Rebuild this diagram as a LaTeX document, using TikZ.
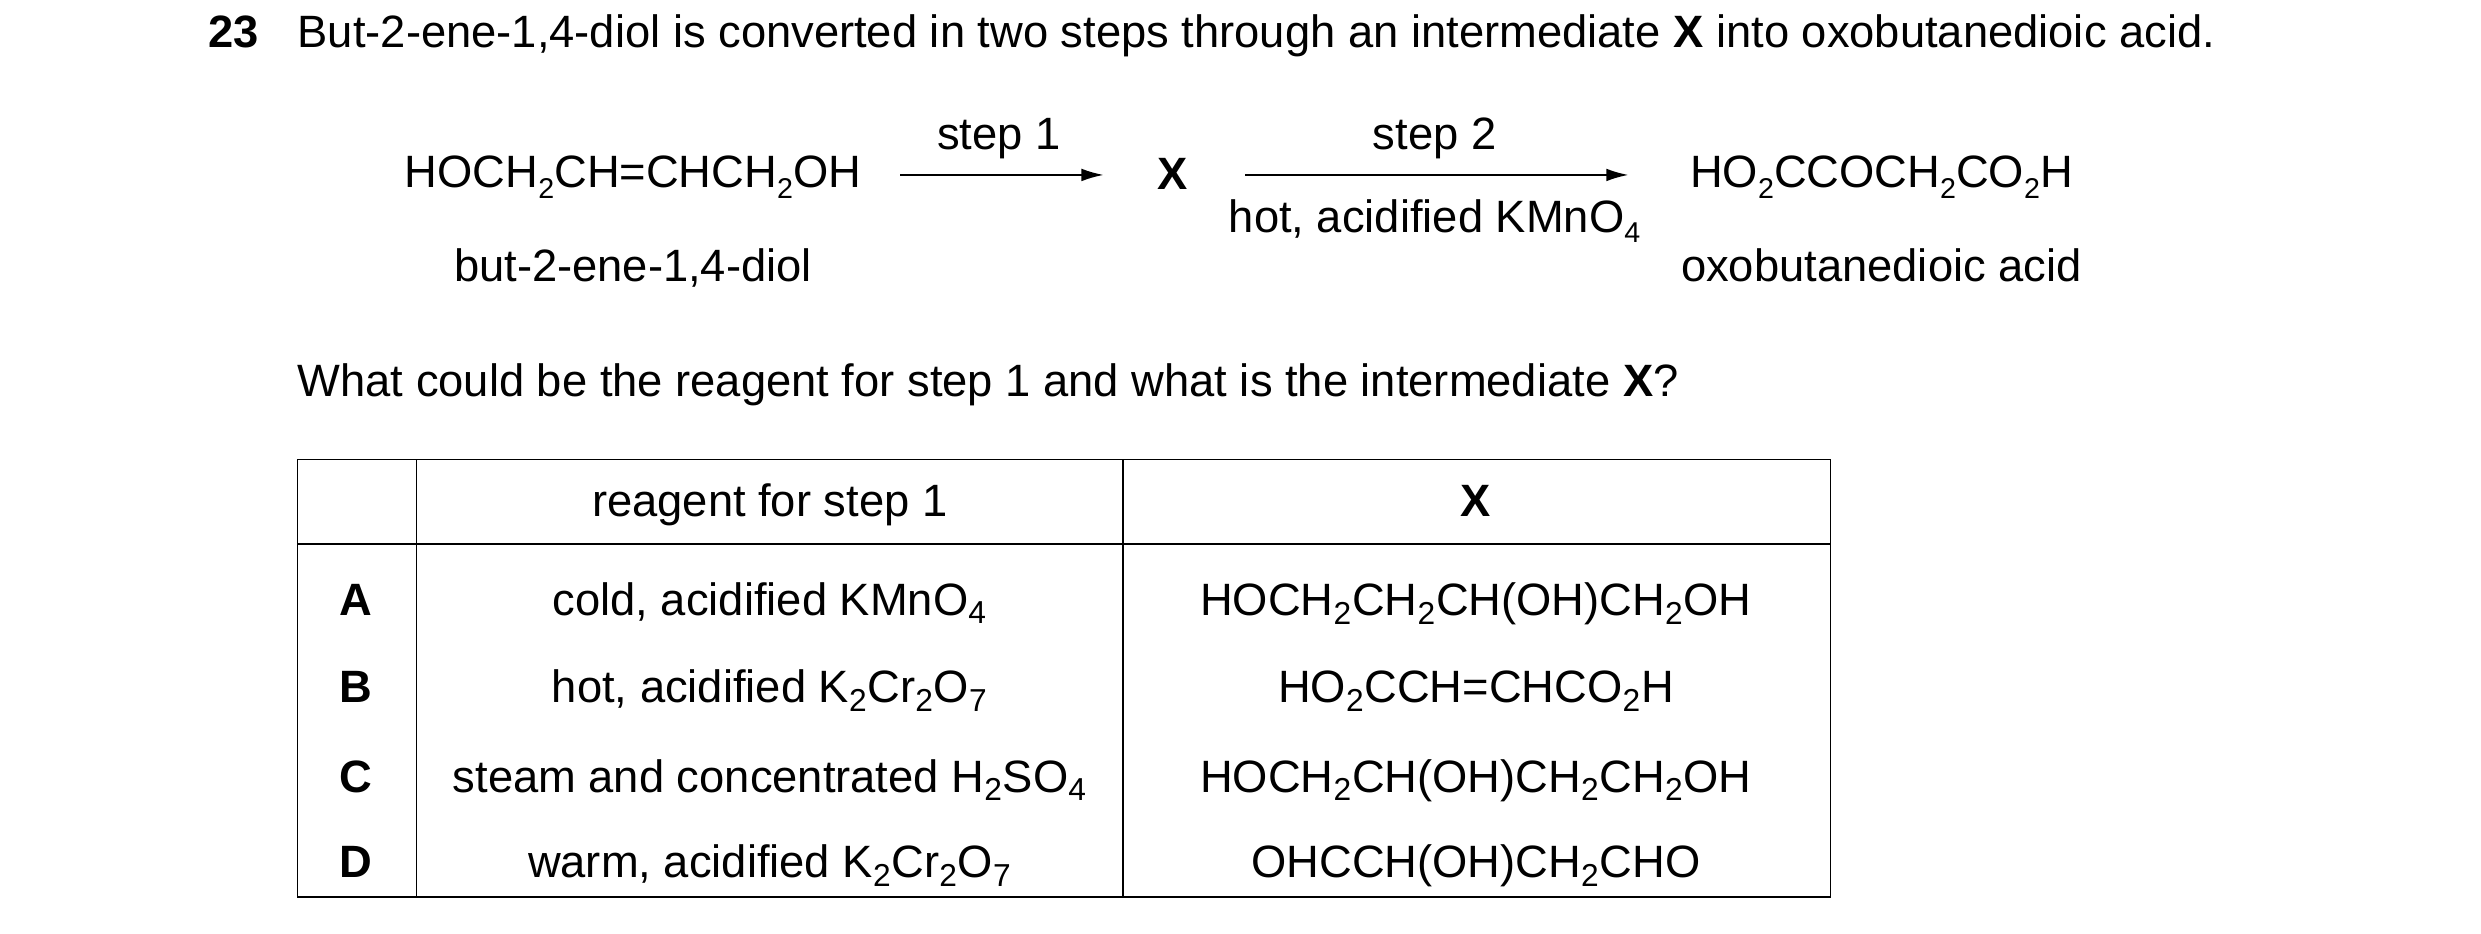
\documentclass[tikz,border=0pt]{standalone}
\usepackage{fontspec}
\setmainfont{Liberation Sans}
\usetikzlibrary{positioning,arrows.meta}

\newcommand{\lowsub}[1]{\raisebox{-0.45ex}{\fontsize{18}{20}\selectfont #1}}

\tikzset{
	txt/.style={inner sep=0pt, font=\fontsize{28.5}{33}\selectfont},
	arr/.style={-{Latex[length=14pt,width=8pt]}, line width=1.3pt},
	rule/.style={line width=1pt}
}

\begin{document}
\begin{tikzpicture}[x=1pt,y=-1pt]

\useasboundingbox (0,0) rectangle (1560,587);

% ------------------------------------------------------

\node[txt, anchor=base east] (num) at (163,30) {\textbf{23}};
\node[txt, anchor=base west] (title) at (187,30) {But-2-ene-1,4-diol is converted in two steps through an intermediate \textbf{X} into oxobutanedioic acid.};

% reaction scheme
\node[txt, anchor=base] (diol) at (398,118) {HOCH\lowsub{2}CH=CHCH\lowsub{2}OH};
\node[txt, anchor=base] (diolname) at (398,177) {but-2-ene-1,4-diol};
\node[txt, anchor=base] (X) at (737,119) {\textbf{X}};
\node[txt, anchor=base] (acid) at (1183,118) {HO\lowsub{2}CCOCH\lowsub{2}CO\lowsub{2}H};
\node[txt, anchor=base] (acidname) at (1183,177) {oxobutanedioic acid};

\coordinate (a1s) at (566,110);
\coordinate (a1e) at (694,110);
\coordinate (a2s) at (783,110);
\coordinate (a2e) at (1024,110);
\draw[arr] (a1s) -- (a1e);
\draw[arr] (a2s) -- (a2e);
\node[txt, anchor=base] (step1) at (628,94) {step 1};
\node[txt, anchor=base] (step2) at (902,94) {step 2};
\node[txt, anchor=base] (cond2) at (902,146) {hot, acidified KMnO\lowsub{4}};

\node[txt, anchor=base west] (question) at (187,249) {What could be the reagent for step 1 and what is the intermediate \textbf{X}?};

% ------------------------------------------------------
% table

\draw[rule] (187,289) rectangle (1151,564);
\draw[rule] (187,342) -- (1151,342);
\draw[rule] (262,289) -- (262,564);
\draw[rule] (706,289) -- (706,564);

\node[txt, anchor=base] (hreag) at (484,325) {reagent for step 1};
\node[txt, anchor=base] (hX) at (928,325) {\textbf{X}};

\foreach \lab/\y/\reag/\inter in {
	A/387/{cold, acidified KMnO\textsubscript{4}}/{HOCH\textsubscript{2}CH\textsubscript{2}CH(OH)CH\textsubscript{2}OH},
	B/442/{hot, acidified K\textsubscript{2}Cr\textsubscript{2}O\textsubscript{7}}/{HO\textsubscript{2}CCH=CHCO\textsubscript{2}H},
	C/498/{steam and concentrated H\textsubscript{2}SO\textsubscript{4}}/{HOCH\textsubscript{2}CH(OH)CH\textsubscript{2}CH\textsubscript{2}OH},
	D/552/{warm, acidified K\textsubscript{2}Cr\textsubscript{2}O\textsubscript{7}}/{OHCCH(OH)CH\textsubscript{2}CHO}}
{
	\node[txt, anchor=base] (lab\lab) at (224,\y) {\textbf{\lab}};
	\node[txt, anchor=base] (reag\lab) at (484,\y) {\reag};
	\node[txt, anchor=base] (int\lab) at (928,\y) {\inter};
}

\end{tikzpicture}
\end{document}
